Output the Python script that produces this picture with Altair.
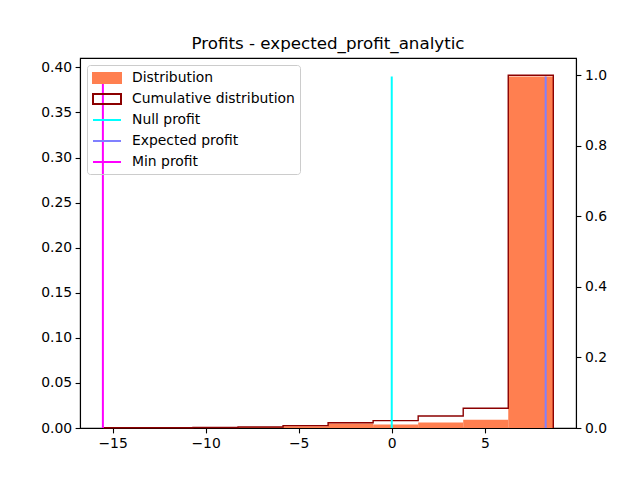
import altair as alt
import pandas as pd

# ---- data ----
bin_edges = [-15.52, -13.10, -10.68, -8.26, -5.84, -3.42, -1.00, 1.42, 3.84, 6.26, 8.68]
density = [0.0002, 0.0001, 0.0002, 0.0010, 0.0020, 0.0050, 0.0040, 0.0060, 0.0092, 0.3900]
cumulative = [0.0005, 0.0008, 0.0013, 0.0030, 0.0066, 0.0150, 0.0210, 0.0340, 0.0560, 1.0]
line_names = ["Null profit", "Expected profit", "Min profit"]
line_values = [0.0, 8.27, -15.52]
legend_labels = ["Distribution", "Cumulative distribution", "Null profit", "Expected profit", "Min profit"]
x_ticks = [-15, -10, -5, 0, 5]
left_ticks = [0.0, 0.05, 0.10, 0.15, 0.20, 0.25, 0.30, 0.35, 0.40]
right_ticks = [0.0, 0.2, 0.4, 0.6, 0.8, 1.0]

# ---- styles ----
CORAL = "#ff7f50"
DARKRED = "#8b0000"
line_colors = ["#00ffff", "#8080ff", "#ff00ff"]
FONT = "DejaVu Sans"

bars_df = pd.DataFrame({"x": bin_edges[:-1], "x2": bin_edges[1:], "d": density, "y0": [0.0] * len(density)})

pts_x, pts_y = [bin_edges[0]], [0.0]
for i, c in enumerate(cumulative):
    pts_x += [bin_edges[i], bin_edges[i + 1]]
    pts_y += [c, c]
pts_x.append(bin_edges[-1])
pts_y.append(0.0)
step_df = pd.DataFrame({"x": pts_x, "c": pts_y, "i": list(range(len(pts_x)))})

rules_df = pd.DataFrame({"name": line_names, "x": line_values,
                         "y0": [0.0] * 3, "top": [max(density)] * 3})
legend_df = pd.DataFrame({"label": legend_labels})

xscale = alt.Scale(domain=[-16.75, 9.9], nice=False, zero=False)
xaxis = alt.Axis(values=x_ticks, format="d", title=None,
                 labelExpr="replace(datum.label, '-', '\u2212')")
left_scale = alt.Scale(domain=[0, 0.4104], nice=False, zero=False)

bars = alt.Chart(bars_df).mark_rect(color=CORAL).encode(
    x=alt.X("x:Q", scale=xscale, axis=xaxis),
    x2="x2:Q",
    y=alt.Y("d:Q", scale=left_scale,
            axis=alt.Axis(values=left_ticks, format=".2f", orient="left", title=None)),
    y2="y0:Q",
)

step = alt.Chart(step_df).mark_line(color=DARKRED, strokeWidth=1.4).encode(
    x=alt.X("x:Q", scale=xscale, axis=xaxis),
    y=alt.Y("c:Q", scale=alt.Scale(domain=[0, 1.049], nice=False, zero=False),
            axis=alt.Axis(values=right_ticks, format=".1f", orient="right", title=None)),
    order="i:Q",
)

rules = alt.Chart(rules_df).mark_rule(strokeWidth=2).encode(
    x=alt.X("x:Q", scale=xscale, axis=xaxis),
    y=alt.Y("y0:Q", scale=left_scale, axis=None),
    y2="top:Q",
    color=alt.Color("name:N", scale=alt.Scale(domain=line_names, range=line_colors), legend=None),
)

rect_path = "M-1,-0.71L3,-0.71L3,0.71L-1,0.71Z"
line_path = "M-1,0L3,0"
leg = alt.Legend(title=None, orient="top-left")
legend_layer = alt.Chart(legend_df).mark_point(opacity=1).encode(
    fill=alt.Fill("label:N", scale=alt.Scale(domain=legend_labels,
                  range=[CORAL, "transparent", "transparent", "transparent", "transparent"]), legend=leg),
    stroke=alt.Stroke("label:N", scale=alt.Scale(domain=legend_labels,
                      range=[CORAL, DARKRED] + line_colors), legend=leg),
    shape=alt.Shape("label:N", scale=alt.Scale(domain=legend_labels,
                    range=[rect_path, rect_path, line_path, line_path, line_path]), legend=leg),
).transform_filter("false")

chart = alt.layer(bars, step, rules, legend_layer).resolve_scale(
    y="independent"
).properties(
    width=496, height=370,
    title=alt.TitleParams("Profits - expected_profit_analytic", font=FONT, fontSize=16.7,
                          fontWeight="normal", color="black", anchor="middle", offset=5),
    autosize=alt.AutoSizeParams(type="none"),
    padding={"left": 72, "top": 50, "right": 56, "bottom": 45},
).configure_view(
    stroke="black", strokeWidth=1.1
).configure_axis(
    grid=False, domainColor="black", domainWidth=1.1, tickColor="black", tickWidth=1.1,
    tickSize=4.9, labelPadding=3.5, labelColor="black", labelFont=FONT, labelFontSize=13.9,
).configure_legend(
    offset=7, padding=5, strokeColor="#cccccc", strokeWidth=1, cornerRadius=3,
    labelFont=FONT, labelFontSize=13.9, labelColor="black", labelLimit=300,
    symbolSize=196, symbolStrokeWidth=2, symbolOpacity=1, labelOffset=24, rowPadding=3,
    gridAlign="all",
)

chart.save("out.html", embed_options={"renderer": "svg", "actions": False})
